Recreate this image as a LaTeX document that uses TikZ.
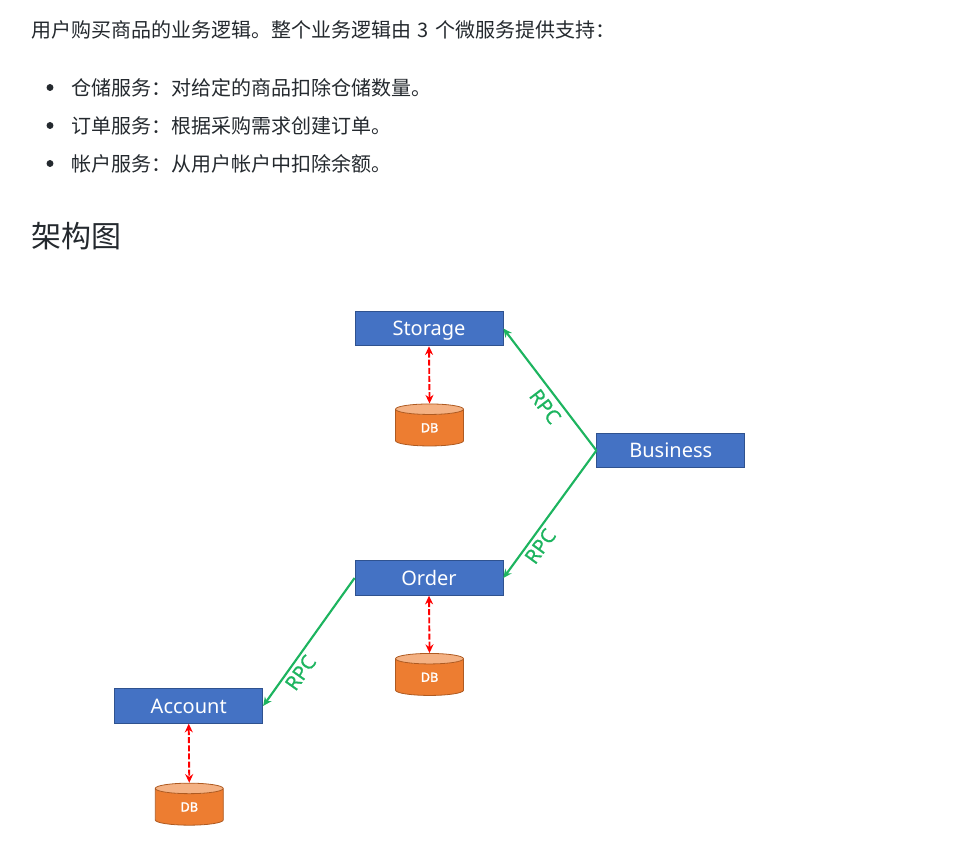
\documentclass[tikz,border=0pt]{standalone}
\usepackage{fontspec}
\setmainfont{Noto Sans CJK SC}
\newfontfamily\latinfont{Noto Sans}
\newfontfamily\latinbold[FakeBold=1.6]{Noto Sans}
\newfontfamily\latinmedium[FakeBold=0.7]{Noto Sans}
\usetikzlibrary{shapes.geometric, arrows.meta, positioning}
\definecolor{boxblue}{HTML}{4472C4}
\definecolor{boxedge}{HTML}{2F528F}
\definecolor{dborange}{HTML}{ED7D31}
\definecolor{dbtop}{HTML}{F4B183}
\definecolor{dbedge}{HTML}{AE5A21}
\definecolor{rpcgreen}{HTML}{1DB45F}
\definecolor{bodytext}{HTML}{24292E}

\begin{document}
\begin{tikzpicture}[
		x=0.75pt, y=-0.75pt,
		% Styles for the text above the diagram
		para/.style = {anchor=base west, inner sep=0pt, text=bodytext, font=\fontsize{15}{15}\selectfont},
		heading/.style = {anchor=base west, inner sep=0pt, text=bodytext, font=\fontsize{22.5}{22.5}\selectfont},
		dot/.style = {circle, fill=bodytext, inner sep=0pt, minimum size=5.2pt},
		% Styles for the diagram
		service/.style = {draw=boxedge, fill=boxblue, rectangle, line width=0.6pt, minimum width=111pt, minimum height=26pt, inner sep=0pt, text height=11.6pt, text depth=1pt, text=white, font=\latinfont\fontsize{15}{15}\selectfont},
		db/.style = {draw=dbedge, line width=0.6pt, cylinder, shape border rotate=90, aspect=0.6, minimum width=51pt, minimum height=31.5pt, inner sep=0pt, cylinder uses custom fill, cylinder body fill=dborange, cylinder end fill=dbtop, text=white, font=\latinbold\fontsize{9.5}{9.5}\selectfont},
		rpc/.style = {->, draw=rpcgreen, line width=1.6pt},
		rpclabel/.style = {sloped, inner sep=2pt, text=rpcgreen, font=\latinmedium\fontsize{15}{15}\selectfont},
		link/.style = {<->, draw=red, line width=1.4pt, dash pattern=on 4.5pt off 1.6pt},
		>={Stealth[length=6.5pt, width=6pt]}
		]
		
		\path [use as bounding box] (0,0) rectangle (969,855);
		
		% --- TEXT ---
		\node [para] (intro) at (31,38) {用户购买商品的业务逻辑。整个业务逻辑由\hspace{5pt}3\hspace{5pt}个微服务提供支持：};
		\node [para] (item1) at (71,96) {仓储服务：对给定的商品扣除仓储数量。};
		\node [para] (item2) at (71,134) {订单服务：根据采购需求创建订单。};
		\node [para] (item3) at (71,172) {帐户服务：从用户帐户中扣除余额。};
		\node [dot] (dot1) at (50,87.5) {};
		\node [dot] (dot2) at (50,125.5) {};
		\node [dot] (dot3) at (50,163.5) {};
		\node [heading] (title) at (31,247.5) {架构图};
		
		% --- SERVICES ---
		\node [service] (storage) at (429,328.5) {Storage};
		\node [service, right=69.75pt of storage, yshift=-91.5pt] (business) {Business};
		\node [service, below=160.5pt of storage] (order) {Order};
		\node [service, left=68.6pt of order, yshift=-96pt] (account) {Account};
		
		% --- DATABASES ---
		\node [db, below=43pt of storage, xshift=0.4pt] (dbstorage) {DB};
		\node [db, below=43pt of order, xshift=0.4pt] (dborder) {DB};
		\node [db, below=44.3pt of account, xshift=0.4pt] (dbaccount) {DB};
		
		% --- CONNECTIONS ---
		\draw [rpc] (business.west) -- node[rpclabel, below=2.2pt, pos=0.43] {RPC} (storage.east);
		\draw [rpc] (business.west) -- node[rpclabel, below, pos=0.7] {RPC} (order.east);
		\draw [rpc] (order.west) -- node[rpclabel, below, pos=0.69] {RPC} (account.east);
		\draw [link] (storage.south) -- (dbstorage.north);
		\draw [link] (order.south) -- (dborder.north);
		\draw [link] (account.south) -- (dbaccount.north);
		
	\end{tikzpicture}
\end{document}
